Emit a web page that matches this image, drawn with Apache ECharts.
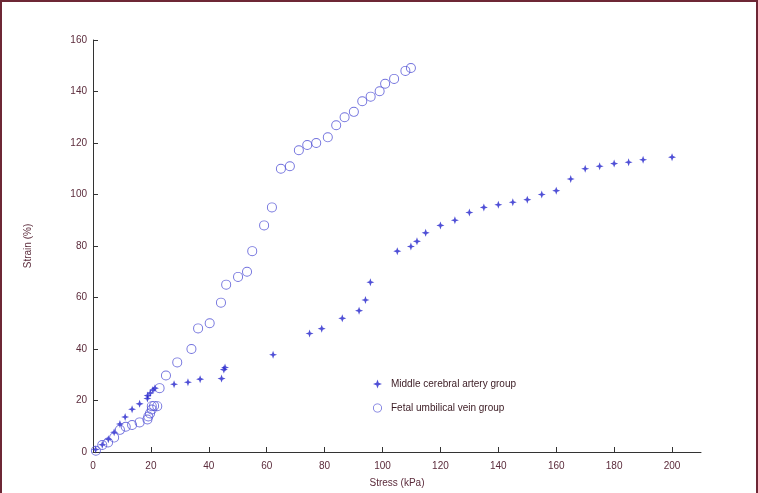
<!DOCTYPE html>
<html>
<head>
<meta charset="utf-8">
<script src="https://cdn.jsdelivr.net/npm/echarts@6/dist/echarts.min.js"></script>
<style>
html,body{margin:0;padding:0;background:#fff;}
#frame{position:absolute;left:0;top:0;width:758px;height:493px;box-sizing:border-box;border-top:2px solid #6d2735;border-left:2px solid #6d2735;border-right:2px solid #6d2735;}
#chart{position:absolute;left:0;top:0;width:758px;height:493px;}
</style>
</head>
<body>
<div id="chart"></div>
<div id="frame"></div>
<script>
const xTicks = [0, 20, 40, 60, 80, 100, 120, 140, 160, 180, 200];
const yTicks = [0, 20, 40, 60, 80, 100, 120, 140, 160];
const seriesNames = ['Middle cerebral artery group', 'Fetal umbilical vein group'];
const arteryData = [
  [0.9,1],[3.2,2.8],[5.3,5],[7.3,7.7],[9.3,10.9],[11.1,13.6],[13.5,16.6],[16.1,18.7],
  [18.8,20.8],[18.9,21.9],[19.8,22.9],[20.7,24.1],[21.4,24.8],[28,26.3],[32.8,27.1],
  [37,28.3],[44.4,28.5],[45.2,32],[45.6,32.8],[62.2,37.8],[74.8,46],[79,47.9],[86.1,51.9],
  [91.9,54.9],[94.1,59],[95.8,65.9],[105.1,78],[109.8,79.8],[111.9,81.8],[114.9,85.1],
  [120,88],[125,90],[130,93],[135,95],[140,96],[145,97],[150,98],[155,100],[160,101.5],
  [165,106],[170,110],[175,111],[180,112],[185,112.5],[190,113.5],[200,114.5]
];
const veinData = [
  [1,0.5],[3.2,2.7],[5.2,3.7],[7.3,5.6],[9.3,8.6],[11.3,9.8],[13.5,10.5],[16.1,11.5],
  [18.8,12.6],[19.1,13.8],[19.7,15],[20.3,16.5],[20.3,17.8],[21.1,17.9],[22.2,17.8],
  [23,24.8],[25.2,29.7],[29.1,34.8],[34,40],[36.3,48],[40.3,50],[44.2,58],[46,65],
  [50.1,68],[53.2,70],[55,78],[59.1,88],[61.8,95],[64.9,110],[68,111],[71.1,117.2],
  [74,119.2],[77.1,120],[81.1,122.2],[84,126.9],[86.9,130],[90.1,132.1],[93,136.2],
  [95.9,138],[99,140.1],[100.9,143],[104,144.9],[107.9,148],[109.8,149.1]
];

const starPath = 'path://M0,-10 L2.6,-2.6 L10,0 L2.6,2.6 L0,10 L-2.6,2.6 L-10,0 L-2.6,-2.6 Z';
const ringPath = 'path://M-10,0 A10,10 0 1,0 10,0 A10,10 0 1,0 -10,0 Z M-8.1,0 A8.1,8.1 0 1,1 8.1,0 A8.1,8.1 0 1,1 -8.1,0 Z';
const labelColor = '#5b2b3b';
const font = 'Liberation Sans, Arial, sans-serif';

const chart = echarts.init(document.getElementById('chart'));
chart.setOption({
  animation: false,
  backgroundColor: '#ffffff',
  grid: { left: 93, right: 57, top: 40, bottom: 38 },
  legend: {
    orient: 'vertical',
    left: 368,
    top: 374,
    itemGap: 14,
    itemWidth: 9,
    itemHeight: 9,
    textStyle: { color: '#3a1a22', fontSize: 10, fontFamily: font, padding: [0, 0, 0, 4] },
    data: [
      { name: seriesNames[0], icon: starPath },
      { name: seriesNames[1], icon: ringPath }
    ]
  },
  xAxis: {
    type: 'value',
    min: 0,
    max: 210,
    interval: 20,
    name: 'Stress (kPa)',
    nameLocation: 'middle',
    nameGap: 26,
    nameTextStyle: { color: labelColor, fontSize: 10, fontFamily: font },
    splitLine: { show: false },
    axisLine: { lineStyle: { color: '#333', width: 1 } },
    axisTick: { inside: true, length: 5, lineStyle: { color: '#333' }, customValues: xTicks },
    axisLabel: { color: labelColor, fontSize: 10, fontFamily: font, margin: 9, customValues: xTicks }
  },
  yAxis: {
    type: 'value',
    min: 0,
    max: 160,
    interval: 20,
    name: 'Strain (%)',
    nameLocation: 'middle',
    nameGap: 60,
    nameTextStyle: { color: labelColor, fontSize: 10, fontFamily: font },
    splitLine: { show: false },
    axisLine: { show: true, lineStyle: { color: '#333', width: 1 } },
    axisTick: { show: true, inside: true, length: 5, lineStyle: { color: '#333' }, customValues: yTicks },
    axisLabel: { color: labelColor, fontSize: 10, fontFamily: font, margin: 6, customValues: yTicks }
  },
  series: [
    {
      name: seriesNames[0],
      type: 'scatter',
      symbol: starPath,
      symbolSize: 8,
      data: arteryData,
      itemStyle: { color: '#2424cc', borderWidth: 0 }
    },
    {
      name: seriesNames[1],
      type: 'scatter',
      symbol: ringPath,
      symbolSize: 10,
      data: veinData,
      itemStyle: { color: '#4f4fd4', borderWidth: 0 }
    }
  ]
});
</script>
</body>
</html>
